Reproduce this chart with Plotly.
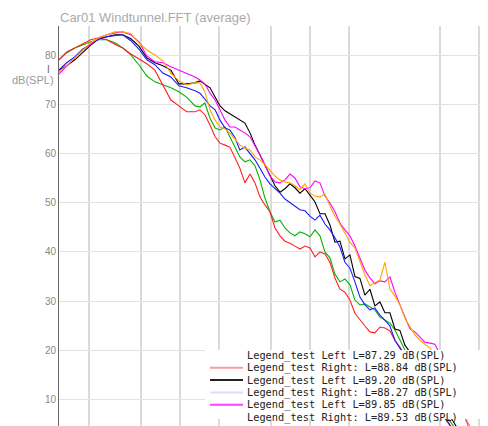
import plotly.graph_objects as go

# Frequencies (Hz), log axis
freq = [11.8, 13.5, 15.6, 18.0, 20.7, 23.9, 27.5, 31.7, 36.5, 42.1, 48.5, 55.9, 64.4, 74.2, 85.5, 98.5, 113, 131,
        143, 156, 171, 187, 204, 223, 243, 266, 290, 317, 347, 379, 414, 452, 494, 540, 590, 644, 704, 769, 840, 918,
        1003, 1096, 1197, 1308, 1429, 1561, 1705, 1863, 2035, 2223, 2429, 2654, 2899, 3167, 3460, 3780, 4130, 4512,
        4929, 5385, 5883, 6427, 7021, 7671, 8380, 9155, 10002, 10927, 11938, 13042, 14248, 15566, 17006, 18579, 20298]

red = [79.2, 80.8, 81.6, 82.4, 83.3, 83.7, 83.3, 82.4, 81.6, 80.4, 79.4, 78.4, 77.1, 74.1, 71.0, 69.8, 68.6, 68.6,
       69.0, 68.0, 65.9, 63.5, 62.2, 61.8, 61.4, 59.2, 57.1, 54.1, 55.9, 54.1, 51.2, 49.6, 48.2, 44.9, 43.3, 42.2,
       41.8, 41.2, 40.6, 41.2, 40.8, 39.0, 40.0, 39.6, 37.9, 34.7, 32.4, 31.8, 30.2, 27.5, 26.1, 24.9, 23.7, 23.5,
       24.7, 24.5, 23.9, 22.0, 20.6, 19.0, 16.9, 15.5, 13.9, 12.2, 10.8, 9.4, 7.8, 6.3, 4.7, 3.3, 1.6, 0.2, -1.4,
       -2.9, -4.5]
green = [79.2, 80.6, 81.6, 82.2, 82.9, 83.3, 83.3, 82.7, 81.6, 80.2, 78.2, 75.9, 74.7, 74.1, 73.5, 72.7, 71.6, 69.8,
         69.6, 70.4, 67.3, 65.3, 64.9, 65.5, 63.5, 61.4, 59.4, 58.4, 58.8, 57.6, 54.7, 51.0, 48.2, 46.1, 46.5, 44.9,
         43.9, 43.3, 44.1, 43.7, 43.1, 44.5, 43.3, 40.0, 38.8, 35.5, 33.9, 34.5, 33.3, 30.2, 29.2, 29.4, 28.8, 28.2,
         26.7, 26.1, 25.5, 24.1, 22.0, 20.0, 18.4, 16.7, 15.1, 13.5, 11.8, 10.2, 8.6, 7.1, 5.5, 4.1, 2.4, 1.0, -0.6,
         -2.0, -3.7]
black = [77.1, 78.0, 79.2, 80.8, 82.2, 83.5, 83.9, 84.3, 84.3, 83.5, 82.0, 79.6, 78.6, 78.0, 77.1, 74.3, 74.3, 74.5,
         74.9, 74.3, 73.5, 71.6, 69.8, 68.8, 68.2, 67.6, 66.9, 66.3, 64.3, 61.8, 59.8, 57.8, 55.7, 53.5, 52.2, 52.9,
         53.9, 53.1, 52.0, 52.9, 51.6, 50.2, 47.8, 47.8, 45.5, 42.0, 42.2, 38.6, 39.4, 35.0, 34.6, 31.2, 32.4, 29.0,
         29.8, 27.6, 27.6, 24.3, 24.0, 21.0, 19.6, 17.9, 16.3, 14.7, 13.1, 11.4, 9.8, 8.2, 6.5, 4.9, 3.3, 1.6, 0.0,
         -1.6, -3.3]
blue = [77.1, 78.6, 79.8, 81.4, 82.4, 83.5, 83.9, 84.1, 84.3, 83.1, 81.4, 79.2, 78.2, 76.5, 75.7, 73.9, 73.5, 72.9,
        72.4, 71.2, 69.8, 69.0, 66.9, 65.3, 64.9, 63.3, 60.8, 61.4, 60.2, 58.8, 57.1, 55.3, 53.9, 52.9, 52.0, 50.8,
        50.0, 49.4, 48.6, 48.4, 47.3, 46.5, 47.5, 45.7, 44.5, 42.9, 41.0, 37.9, 36.7, 33.9, 30.8, 29.2, 28.2, 28.6,
        27.1, 26.1, 24.9, 22.0, 20.4, 18.8, 17.1, 15.5, 13.9, 12.2, 10.6, 9.0, 7.4, 6.1, 4.7, 3.3, 1.6, 0.2, -1.4,
        -2.9, -4.5]
orange = [76.7, 78.0, 79.6, 81.2, 82.7, 83.7, 84.3, 84.9, 84.9, 84.5, 82.7, 81.2, 80.2, 79.0, 76.5, 74.9, 74.1, 74.5,
          74.5, 72.7, 69.0, 66.9, 65.5, 65.1, 64.3, 62.9, 61.8, 61.2, 60.8, 59.4, 58.8, 57.8, 56.7, 55.5, 54.7, 54.3,
          54.1, 53.5, 52.7, 53.9, 52.0, 51.4, 51.2, 51.8, 49.4, 47.3, 45.7, 43.9, 42.0, 40.8, 37.9, 35.3, 33.1, 33.7,
          34.3, 37.9, 32.5, 31.0, 29.2, 26.5, 24.7, 23.1, 22.0, 21.2, 20.4, 18.8, 16.7, 14.7, 12.6, 10.6, 8.6, 6.5,
          4.5, 2.4, 0.4]
magenta = [76.3, 78.0, 79.6, 81.2, 82.4, 83.7, 84.3, 84.7, 84.9, 84.3, 82.9, 80.0, 78.8, 78.6, 77.8, 77.1, 76.5, 75.7,
           75.1, 74.3, 72.4, 71.0, 69.0, 66.9, 65.5, 65.5, 64.9, 64.3, 63.5, 61.8, 59.8, 57.8, 55.5, 54.3, 54.1, 54.7,
           55.9, 55.1, 53.3, 52.9, 53.1, 54.5, 54.1, 51.4, 50.0, 48.2, 45.9, 44.5, 43.3, 41.2, 38.6, 36.3, 34.7, 33.5,
           34.1, 33.9, 34.9, 31.8, 29.2, 26.7, 24.3, 23.7, 22.6, 21.6, 21.4, 21.2, 19.2, 16.7, 14.3, 11.4, 8.8, 6.1,
           3.6, 1.2, -1.4]

series_names = ["Legend_test Left L=87.29 dB(SPL)", "Legend_test Right: L=88.84 dB(SPL)",
                "Legend_test Left L=89.20 dB(SPL)", "Legend_test Right: L=88.27 dB(SPL)",
                "Legend_test Left L=89.85 dB(SPL)", "Legend_test Right: L=89.53 dB(SPL)"]
series_values = [green, red, black, blue, magenta, orange]
series_colors = ["#00b400", "#ff2020", "#000000", "#1a1aff", "#ff00ff", "#ffa500"]
legend_line_colors = [None, "#ff9a9a", "#222222", "#dcdcff", "#ff40ff", None]

y_ticks = [10, 20, 30, 40, 50, 60, 70, 80]
x_grid = [20, 50, 100, 200, 500, 1000, 2000, 10000, 20000]

fig = go.Figure()
for name, vals, col in zip(series_names, series_values, series_colors):
    assert len(vals) == len(freq), name
    fig.add_trace(go.Scatter(x=freq, y=vals, mode="lines", name=name,
                             line=dict(color=col, width=1.1), showlegend=False))

OFF = 8  # page body margin
W, H = 480, 418
L, R, T, B = 51, 0, 18, 0
pw, ph = W - L - R, H - T - B


def px(x):
    return (x - OFF - L) / pw


def py(y):
    return (H - B - (y - OFF)) / ph


shapes = [dict(type="rect", xref="paper", yref="paper", x0=px(205), x1=px(492), y0=py(419), y1=py(350),
               fillcolor="white", line=dict(width=0), layer="above")]
annotations = []
rows = [355.5, 367.8, 380.1, 392.4, 404.7, 417.0]
for r, name, lc in zip(rows, series_names, legend_line_colors):
    if lc:
        shapes.append(dict(type="line", xref="paper", yref="paper", x0=px(210), x1=px(243), y0=py(r), y1=py(r),
                           line=dict(color=lc, width=2), layer="above"))
    annotations.append(dict(text=name, xref="paper", yref="paper", x=px(246), y=py(r), xanchor="left",
                            yanchor="middle", showarrow=False, borderpad=0,
                            font=dict(family="DejaVu Sans Mono", size=10.3, color="#222222")))

annotations.append(dict(text="Car01 Windtunnel.FFT (average)", xref="paper", yref="paper", x=px(58), y=py(18),
                        xanchor="left", yanchor="middle", showarrow=False,
                        font=dict(family="Liberation Sans", size=13, color="#aaaaaa")))
annotations.append(dict(text="I", xref="paper", yref="paper", x=px(52), y=py(70), xanchor="right",
                        yanchor="middle", showarrow=False,
                        font=dict(family="Liberation Sans", size=10, color="#666666")))
annotations.append(dict(text="dB(SPL)", xref="paper", yref="paper", x=px(56), y=py(80), xanchor="right",
                        yanchor="middle", showarrow=False,
                        font=dict(family="Liberation Sans", size=11, color="#999999")))

fig.update_layout(
    width=W, height=H, margin=dict(l=L, r=R, t=T, b=B, pad=0),
    paper_bgcolor="white", plot_bgcolor="white",
    shapes=shapes, annotations=annotations, showlegend=False,
    font=dict(family="Liberation Sans", size=10, color="#888888"),
    xaxis=dict(type="log", range=[1.0719, 4.370], tickvals=x_grid, showticklabels=False,
               showgrid=True, gridcolor="#dadada", gridwidth=1.5, zeroline=False, showline=False,
               ticks="", automargin=False),
    yaxis=dict(range=[4.5, 86.1], tickvals=y_ticks, showgrid=True, gridcolor="#e2e2e2", gridwidth=1,
               zeroline=False, showline=True, linecolor="#666666", linewidth=1, ticks="",
               tickfont=dict(family="Liberation Sans", size=10, color="#888888"), automargin=False),
)

fig.write_html("out.html")
